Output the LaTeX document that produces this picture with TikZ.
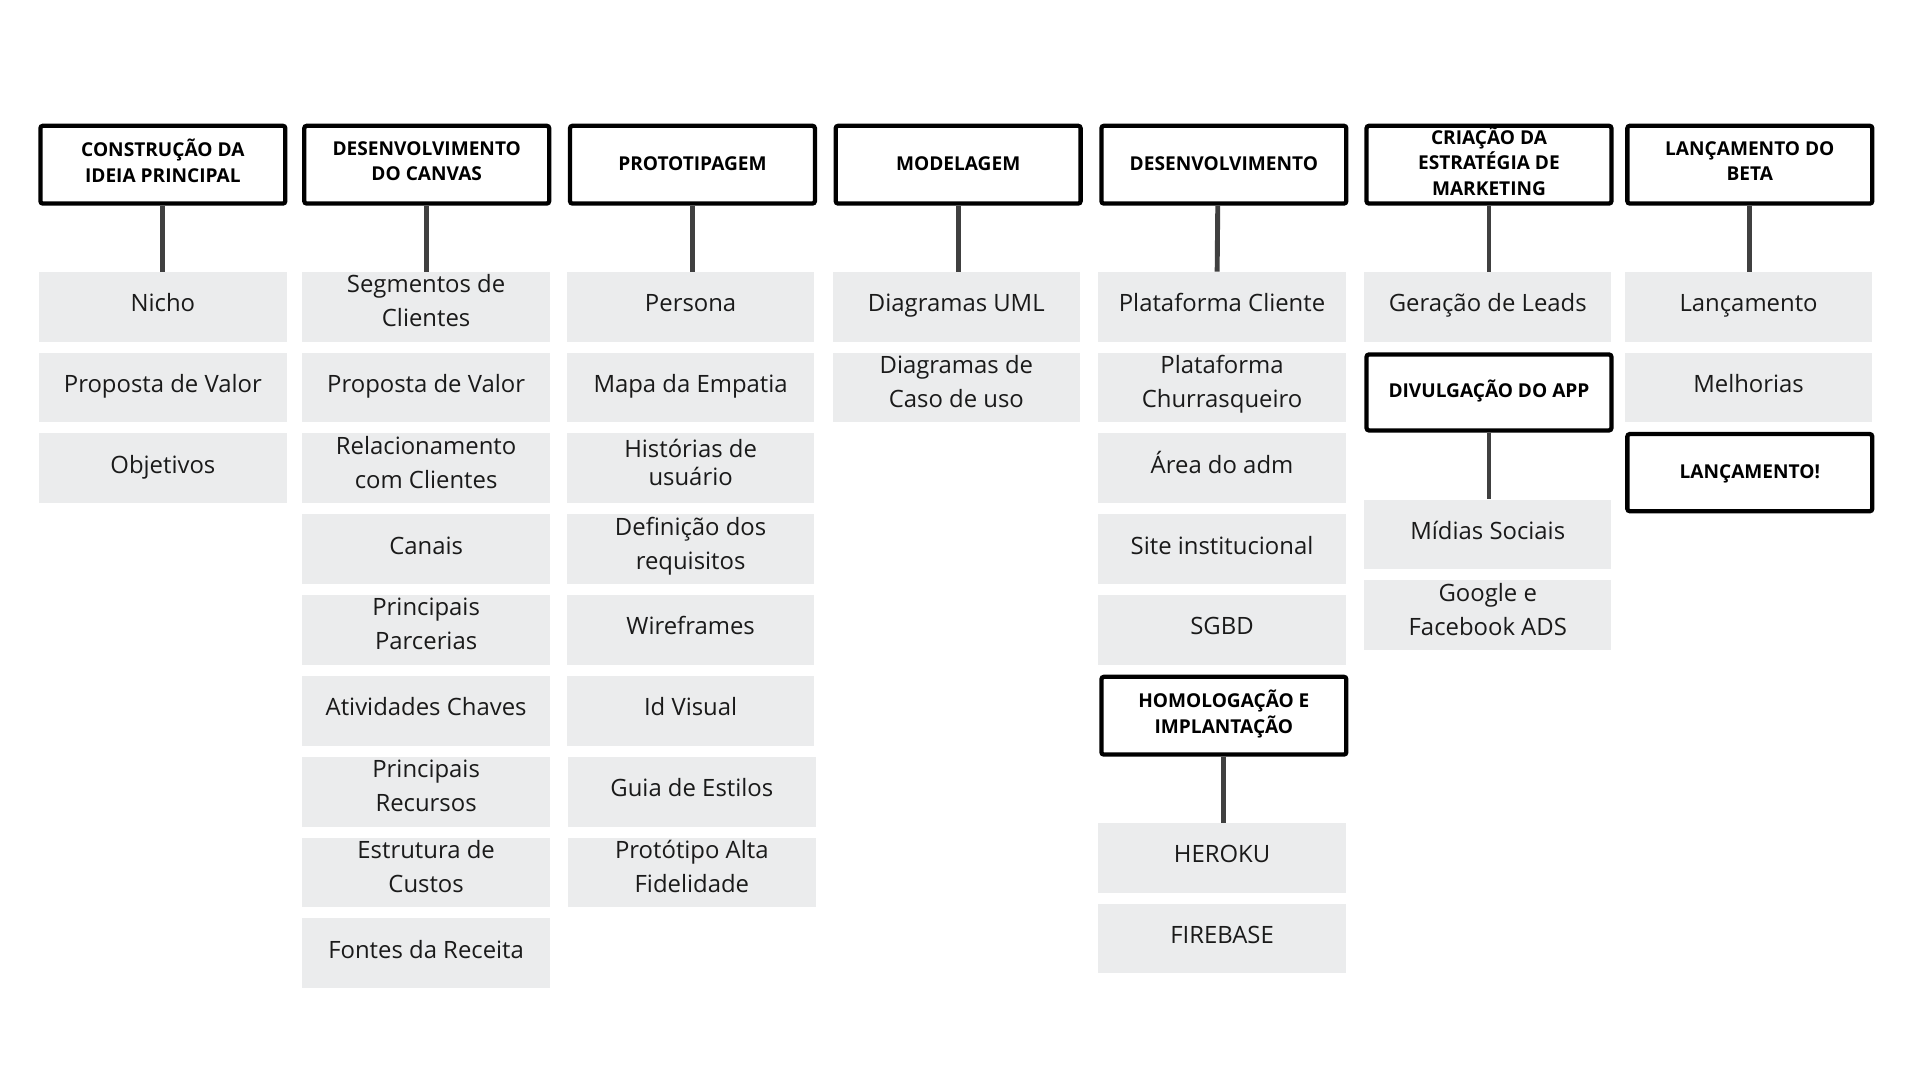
\documentclass[tikz,border=0pt]{standalone}
\usepackage{fontspec}
\setmainfont{Open Sans}
\usepackage{tikz}
\usepackage{xcolor}
\definecolor{taskgray}{HTML}{EBECED}
\definecolor{linkgray}{HTML}{404040}
\definecolor{textgray}{HTML}{1A1A1A}

\begin{document}
\begin{tikzpicture}[x=1pt,y=-1pt,
  phase/.style={draw=black, line width=3.5pt, rounded corners=2pt, fill=white, minimum width=200pt, minimum height=63.5pt, inner sep=0pt, align=center, font=\fontsize{15.6}{21}\selectfont\bfseries,
    execute at begin node={\rule{0pt}{15pt}}, execute at end node={\rule[-6pt]{0pt}{6pt}}},
  task/.style={fill=taskgray, minimum width=202pt, minimum height=57pt, inner sep=0pt, align=center, text=textgray, font=\fontsize{19.5}{27.5}\selectfont,
    execute at begin node={\rule{0pt}{18pt}}, execute at end node={\rule[-10pt]{0pt}{10pt}}},
  link/.style={draw=linkgray, line width=4pt}]

\useasboundingbox (0,0) rectangle (1568,882);

% Phases
\node[phase] (ideia) at (133,134.5) {CONSTRUÇÃO DA\\IDEIA PRINCIPAL};
\node[phase] (canvas) at (348.5,134.5) {DESENVOLVIMENTO\\DO CANVAS};
\node[phase] (proto) at (565.5,134.5) {PROTOTIPAGEM};
\node[phase] (modelo) at (782.5,134.5) {MODELAGEM};
\node[phase] (desenv) at (999.5,134.5) {DESENVOLVIMENTO};
\node[phase] (marketing) at (1216,134.5) {CRIAÇÃO DA\\ESTRATÉGIA DE\\MARKETING};
\node[phase] (beta) at (1429,134.5) {LANÇAMENTO DO\\BETA};

% Construcao da ideia
\node[task] (nicho) at (133,250.5) {Nicho};
\node[task] (valor) at (133,316.5) {Proposta de Valor};
\node[task] (objetivos) at (133,382.5) {Objetivos};

% Canvas
\node[task] (segmentos) at (348,250.5) {Segmentos de\\Clientes};
\node[task] (propcanvas) at (348,316.5) {Proposta de Valor};
\node[task] (relacao) at (348,382.5) {Relacionamento\\com Clientes};
\node[task] (canais) at (348,448.5) {Canais};
\node[task] (parcerias) at (348,514.5) {Principais\\Parcerias};
\node[task] (atividades) at (348,580.5) {Atividades Chaves};
\node[task] (recursos) at (348,646.5) {Principais\\Recursos};
\node[task] (custos) at (348,712.5) {Estrutura de\\Custos};
\node[task] (receita) at (348,778.5) {Fontes da Receita};

% Prototipagem
\node[task] (persona) at (564,250.5) {Persona};
\node[task] (empatia) at (564,316.5) {Mapa da Empatia};
\node[task,font=\fontsize{19.5}{23}\selectfont] (historias) at (564,382.5) {Histórias de\\usuário};
\node[task] (requisitos) at (564,448.5) {Definição dos\\requisitos};
\node[task] (wireframes) at (564,514.5) {Wireframes};
\node[task] (idvisual) at (564,580.5) {Id Visual};
\node[task] (estilos) at (565,646.5) {Guia de Estilos};
\node[task] (altafid) at (565,712.5) {Protótipo Alta\\Fidelidade};

% Modelagem
\node[task] (uml) at (781,250.5) {Diagramas UML};
\node[task] (casouso) at (781,316.5) {Diagramas de\\Caso de uso};

% Desenvolvimento
\node[task] (pcliente) at (998,250.5) {Plataforma Cliente};
\node[task] (pchurras) at (998,316.5) {Plataforma\\Churrasqueiro};
\node[task] (adm) at (998,382.5) {Área do adm};
\node[task] (site) at (998,448.5) {Site institucional};
\node[task] (sgbd) at (998,514.5) {SGBD};
\node[phase] (homolog) at (999.5,584.5) {HOMOLOGAÇÃO E\\IMPLANTAÇÃO};
\node[task] (heroku) at (998,700.5) {HEROKU};
\node[task] (firebase) at (998,766.5) {FIREBASE};

% Marketing
\node[task] (leads) at (1215,250.5) {Geração de Leads};
\node[phase, minimum height=62pt] (divulga) at (1216,320.5) {DIVULGAÇÃO DO APP};
\node[task] (midias) at (1215,436.5) {Mídias Sociais};
\node[task] (ads) at (1215,502.5) {Google e\\Facebook ADS};

% Beta
\node[task] (lancamento) at (1428,250.5) {Lançamento};
\node[task] (melhorias) at (1428,316.5) {Melhorias};
\node[phase, minimum height=63pt] (final) at (1429,386) {LANÇAMENTO!};

% Links
\draw[link] (ideia) -- (ideia |- nicho.north);
\draw[link] (canvas) -- (canvas |- segmentos.north);
\draw[link] (proto) -- (proto |- persona.north);
\draw[link] (modelo) -- (modelo |- uml.north);
\draw[link] ([xshift=-5pt]desenv.south) -- ([xshift=-4pt]pcliente.north);
\draw[link] (marketing) -- (marketing |- leads.north);
\draw[link] (beta) -- (beta |- lancamento.north);
\draw[link] (homolog) -- (homolog |- heroku.north);
\draw[link] (divulga) -- (divulga |- midias.north);

\end{tikzpicture}
\end{document}
